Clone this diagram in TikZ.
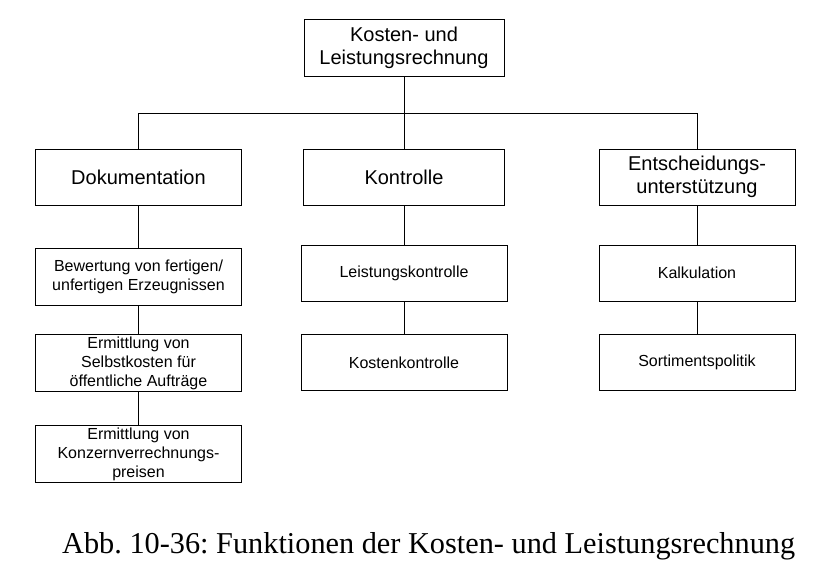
\documentclass[tikz,border=0pt]{standalone}
\usepackage{fontspec}
\setmainfont{Liberation Serif}
\setsansfont{Liberation Sans}
\usetikzlibrary{positioning,calc}
\frenchspacing

\begin{document}
\begin{tikzpicture}[
    x=1pt, y=-1pt,
    func/.style={draw, line width=0.9pt, minimum width=206pt, minimum height=56pt, align=center, inner sep=2pt, font=\sffamily\fontsize{20}{23}\selectfont},
    task/.style={draw, line width=0.9pt, minimum width=206pt, minimum height=56pt, align=center, inner sep=2pt, font=\sffamily\fontsize{16}{19}\selectfont},
    conn/.style={line width=0.9pt}
]
\useasboundingbox (0,0) rectangle (836,578);

\node[func, minimum width=200pt, minimum height=57pt] (klr) at (404,47.5) {Kosten- und\\Leistungsrechnung};
\node[func] (doku) at (138.5,177) {Dokumentation};
\node[func, minimum width=201pt] (kontr) at (404,177) {Kontrolle};
\node[func, minimum width=196pt] (ents) at (697,177) {Entscheidungs-\\unterstützung};

\node[task, minimum height=57pt] (bew) at (138.5,276.5) {Bewertung von fertigen/\\unfertigen Erzeugnissen};
\node[task] (selbst) at (138.5,363) {Ermittlung von\\Selbstkosten für\\öffentliche Aufträge};
\node[task] (konzern) at (138.5,454) {Ermittlung von\\Konzernverrechnungs-\\preisen};
\node[task] (lk) at (404,273) {Leistungskontrolle};
\node[task] (kk) at (404,362.5) {Kostenkontrolle};
\node[task, minimum width=196pt] (kalk) at (697,273) {Kalkulation};
\node[task, minimum width=196pt] (sort) at (697,362.5) {Sortimentspolitik};

\node[anchor=base west, inner sep=0pt, font=\fontsize{30.3}{34}\selectfont] (cap) at (62,553) {Abb. 10-36: Funktionen der Kosten- und Leistungsrechnung};

% Verbindungen
\draw[conn] (klr.south) -- ++(0,37) coordinate (j);
\draw[conn] (doku.north) |- (j) -| (ents.north);
\draw[conn] (j) -- (kontr.north);
\draw[conn] (doku) -- (bew);
\draw[conn] (bew) -- (selbst);
\draw[conn] (selbst) -- (konzern);
\draw[conn] (kontr) -- (lk);
\draw[conn] (lk) -- (kk);
\draw[conn] (ents) -- (kalk);
\draw[conn] (kalk) -- (sort);
\end{tikzpicture}
\end{document}
